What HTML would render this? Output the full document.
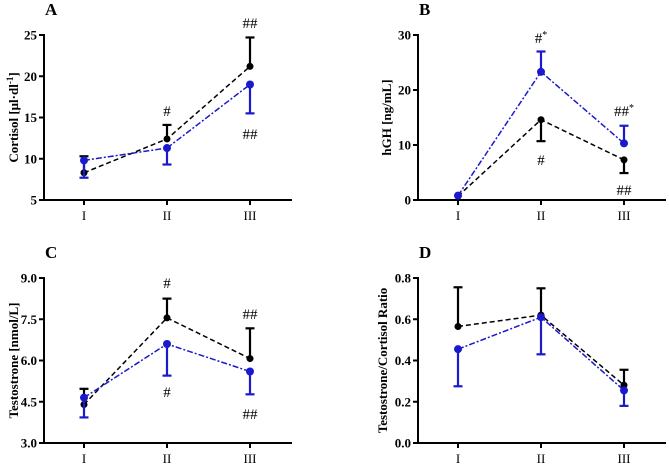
<!DOCTYPE html>
<html><head><meta charset="utf-8"><style>
html,body{margin:0;padding:0;background:#fff;}
svg{display:block;font-family:"Liberation Serif",serif;}
</style></head><body>
<svg id="fig" width="669" height="465" viewBox="0 0 669 465" xmlns="http://www.w3.org/2000/svg"></svg>
<script>
const categories = ["I","II","III"];
// Panel A - Cortisol
const aBlack = [8.3, 12.4, 21.2];
const aBlackErr = [2.0, 1.7, 3.5];
const aBlue = [9.8, 11.3, 19.0];
const aBlueErr = [2.1, 2.0, 3.5];
const aTicks = [5, 10, 15, 20, 25];
// Panel B - hGH
const bBlack = [0.7, 14.6, 7.3];
const bBlackErr = [0, 3.9, 2.4];
const bBlue = [0.8, 23.3, 10.3];
const bBlueErr = [0, 3.7, 3.2];
const bTicks = [0, 10, 20, 30];
// Panel C - Testosterone
const cBlack = [4.4, 7.55, 6.07];
const cBlackErr = [0.57, 0.7, 1.1];
const cBlue = [4.65, 6.6, 5.6];
const cBlueErr = [0.72, 1.15, 0.83];
const cTicks = ["3.0", "4.5", "6.0", "7.5", "9.0"];
// Panel D - T/C ratio
const dBlack = [0.565, 0.62, 0.28];
const dBlackErr = [0.19, 0.13, 0.075];
const dBlue = [0.455, 0.61, 0.255];
const dBlueErr = [0.18, 0.18, 0.075];
const dTicks = ["0.0", "0.2", "0.4", "0.6", "0.8"];

const NS = "http://www.w3.org/2000/svg";
const svg = document.getElementById("fig");
function el(tag, attrs, parent, text) {
  const e = document.createElementNS(NS, tag);
  for (const k in attrs) e.setAttribute(k, attrs[k]);
  if (text !== undefined) e.textContent = text;
  (parent || svg).appendChild(e);
  return e;
}
const BLUE = "#1a1acc";

function panel(p) {
  const g = el("g", {});
  
  
  const ymin = +p.ticks[0], ymax = +p.ticks[p.ticks.length - 1];
  const yS = v => p.y0 + (v - ymin) / (ymax - ymin) * (p.y1 - p.y0);
  const xS = i => p.x0 + 40 + i * 83;
  const ax = el("line", {x1: p.x0, y1: p.y1 - 1, x2: p.x0, y2: p.y0 + 1, stroke: "#000", "stroke-width": 2}, g);
  
  
  const xa = el("line", {x1: p.x0 - 1, y1: p.y0, x2: p.x0 + 248, y2: p.y0, stroke: "#000", "stroke-width": 2}, g);
  
  
  p.ticks.forEach(t => {
    const y = yS(+t);
    el("line", {x1: p.x0 - 5, y1: y, x2: p.x0, y2: y, stroke: "#000", "stroke-width": 2}, g);
    const tl = el("text", {x: p.x0 - 7, y: y + 4.5, "text-anchor": "end", "font-size": 13, "font-weight": "bold"}, g, t);
    
    
  });
  categories.forEach((c, i) => {
    const x = xS(i);
    el("line", {x1: x, y1: p.y0, x2: x, y2: p.y0 + 5, stroke: "#000", "stroke-width": 2}, g);
    const tl = el("text", {x: x, y: p.y0 + 20, "text-anchor": "middle", "font-size": 13}, g, c);
    
    
  });
  const t = el("text", {transform: `translate(${p.tx},${(p.y0 + p.y1) / 2}) rotate(-90)`, "text-anchor": "middle", "font-size": 13, "font-weight": "bold"}, g);
  t.innerHTML = p.title;
  
  
  const L = el("text", {x: p.x0 + 1, y: p.y1 - 20, "font-size": 17, "font-weight": "bold"}, g, p.letter);
  
  
  [[p.black, p.blackErr, "#000", p.blackDir, "5,3", 3.5], [p.blue, p.blueErr, BLUE, -p.blackDir, "6,2,2,2", 4]].forEach(([vals, errs, col, dir, dash, r], si) => {
    const sg = el("g", {}, g);
    
    
    vals.forEach((v, i) => {
      if (errs[i] > 0) {
        const ye = yS(v + dir * errs[i]);
        el("line", {x1: xS(i), y1: yS(v), x2: xS(i), y2: ye, stroke: col, "stroke-width": 2.2}, sg);
        el("line", {x1: xS(i) - 4.5, y1: ye, x2: xS(i) + 4.5, y2: ye, stroke: col, "stroke-width": 2.2}, sg);
      }
    });
    const pl = el("polyline", {points: vals.map((v, i) => xS(i) + "," + yS(v)).join(" "), fill: "none", stroke: col, "stroke-width": 1.5, "stroke-dasharray": dash}, sg);
    
    
    vals.forEach((v, i) => {
      const c = el("circle", {cx: xS(i), cy: yS(v), r: r, fill: col}, sg);
      
      
    });
  });
  p.annots.forEach(([i, y, s]) => {
    const a = el("text", {x: xS(i), y: y, "text-anchor": "middle", "font-size": 15}, g);
    a.innerHTML = s;
    
    
  });
}
panel({letter: "A", x0: 44, y0: 200, y1: 35, tx: 18, ticks: aTicks, black: aBlack, blackErr: aBlackErr, blue: aBlue, blueErr: aBlueErr, blackDir: 1,
  title: 'Cortisol  [μl·dl<tspan font-size="9" dy="-5">-1</tspan><tspan dy="5">]</tspan>',
  annots: [[1, 116, "#"], [2, 28, "##"], [2, 139, "##"]]});
panel({letter: "B", x0: 418, y0: 200, y1: 35, tx: 391, ticks: bTicks, black: bBlack, blackErr: bBlackErr, blue: bBlue, blueErr: bBlueErr, blackDir: -1,
  title: 'hGH [ng/mL]',
  annots: [[1, 43, '#<tspan font-size="10" dy="-5">*</tspan>'], [2, 116, '##<tspan font-size="10" dy="-5">*</tspan>'], [1, 165, "#"], [2, 195, "##"]]});
panel({letter: "C", x0: 44, y0: 443, y1: 278, tx: 18, ticks: cTicks, black: cBlack, blackErr: cBlackErr, blue: cBlue, blueErr: cBlueErr, blackDir: 1,
  title: 'Testostrone [nmol/L]',
  annots: [[1, 288, "#"], [2, 319, "##"], [1, 397, "#"], [2, 419, "##"]]});
panel({letter: "D", x0: 418, y0: 443, y1: 278, tx: 387, ticks: dTicks, black: dBlack, blackErr: dBlackErr, blue: dBlue, blueErr: dBlueErr, blackDir: 1,
  title: 'Testostrone/Cortisol Ratio', annots: []});
</script>
</body></html>
